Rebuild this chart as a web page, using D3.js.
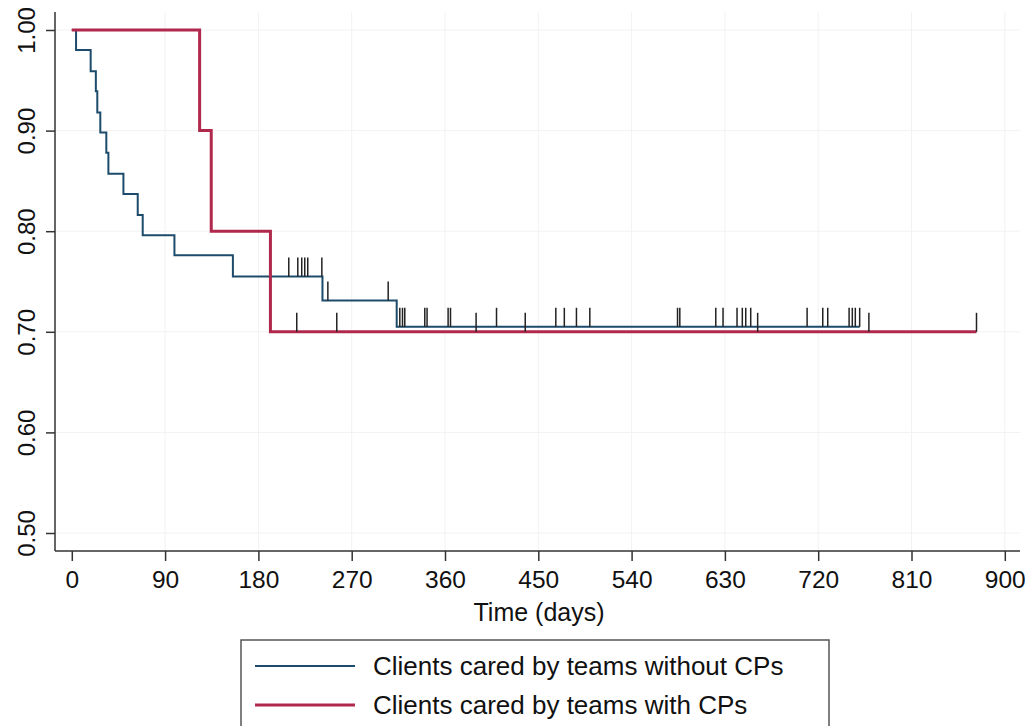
<!DOCTYPE html>
<html>
<head>
<meta charset="utf-8">
<script src="https://cdn.jsdelivr.net/npm/d3@7"></script>
<style>
  body { margin: 0; background: #fff; }
  svg { display: block; font-family: "Liberation Sans", Arial, Helvetica, sans-serif; }
</style>
</head>
<body>
<svg id="chart" width="1030" height="726"></svg>
<script>
// ---- data ----
const seriesNames = ["Clients cared by teams without CPs", "Clients cared by teams with CPs"];

// Teams without CPs: event times (days) and survival after each step
const blueTimes = [0, 4.1, 18.2, 23.2, 24.6, 27.5, 33.3, 35.3, 49.8, 63.6, 68.4, 99, 155.4, 241.8, 313.4];
const blueSurv  = [1.00, 0.980, 0.959, 0.939, 0.918, 0.898, 0.878, 0.857, 0.837, 0.816, 0.796, 0.776, 0.755, 0.731, 0.705];
const blueCensor = [209.3, 218, 221.8, 224.7, 227.6, 241.2, 247, 305.2, 316.4, 319.0, 321.2, 340.5, 342.7,
                    363.0, 365.3, 409.7, 466.9, 475.1, 486.8, 499.7, 584.3, 586.5, 621.2, 628.2, 641.7,
                    646.8, 650.1, 654.9, 709.3, 724.4, 729.2, 749.8, 752.9, 755.8, 760];

// Teams with CPs
const redTimes = [0, 123.3, 134.5, 191.6];
const redSurv  = [1.00, 0.90, 0.80, 0.70];
const redCensor = [217, 255.6, 390, 437.4, 661.6, 768.9, 872.7];

const xTicks = [0, 90, 180, 270, 360, 450, 540, 630, 720, 810, 900];
const yTicks = [0.50, 0.60, 0.70, 0.80, 0.90, 1.00];

// ---- layout ----
const svg = d3.select("#chart");
const x = d3.scaleLinear().domain([0, 900]).range([71.8, 1004.8]);
const y = d3.scaleLinear().domain([0.5, 1.0]).range([533, 30]);
const axisY = 551, axisX = 55;
const FONT = "'Liberation Sans', Arial, sans-serif";

const blueCol = "#1d4b6b";
const redCol = "#b0284c";

// faint grid
const grid = svg.append("g");
grid.selectAll("line.gx").data(xTicks.slice(1)).join("line")
  .attr("x1", d => x(d)).attr("x2", d => x(d))
  .attr("y1", 12).attr("y2", axisY)
  .attr("stroke", "#f2f2f2").attr("stroke-width", 1);
grid.selectAll("line.gy").data(yTicks).join("line")
  .attr("x1", axisX).attr("x2", 1020)
  .attr("y1", d => y(d)).attr("y2", d => y(d))
  .attr("stroke", "#f2f2f2").attr("stroke-width", 1);

// x axis
const xAxis = d3.axisBottom(x).tickValues(xTicks).tickSize(10).tickPadding(8).tickFormat(d3.format("d"));
const gx = svg.append("g").attr("transform", `translate(0,${axisY})`).call(xAxis);
gx.select(".domain").attr("d", `M${axisX},0H1020`).attr("stroke", "#333").attr("stroke-width", 1.5);
gx.selectAll(".tick line").attr("stroke", "#333").attr("stroke-width", 1.5);
gx.selectAll(".tick text").attr("font-size", 24.5).attr("fill", "#111")
  .attr("font-family", FONT).attr("dy", null).attr("y", 37);

// y axis
const yAxis = d3.axisLeft(y).tickValues(yTicks).tickSize(9).tickPadding(0).tickFormat(d3.format(".2f"));
const gy = svg.append("g").attr("transform", `translate(${axisX},0)`).call(yAxis);
gy.select(".domain").attr("d", `M0,12V${axisY}`).attr("stroke", "#333").attr("stroke-width", 1.5);
gy.selectAll(".tick line").attr("stroke", "#333").attr("stroke-width", 1.5);
gy.selectAll(".tick text")
  .attr("font-size", 24).attr("fill", "#111")
  .attr("font-family", FONT)
  .attr("text-anchor", "middle")
  .attr("dy", "0")
  .attr("transform", "translate(-29,0) rotate(-90)")
  .attr("x", 0).attr("y", 8.5);

// x title
svg.append("text").attr("x", 539).attr("y", 621).attr("text-anchor", "middle")
  .attr("font-size", 25).attr("fill", "#111").text("Time (days)");

// step curves
function stepPoints(times, surv, end) {
  const pts = times.map((t, i) => [t, surv[i]]);
  pts.push([end, surv[surv.length - 1]]);
  return pts;
}
function survAt(times, surv, t) {
  let s = surv[0];
  for (let i = 0; i < times.length; i++) if (times[i] <= t) s = surv[i];
  return s;
}
const line = d3.line().x(d => x(d[0])).y(d => y(d[1])).curve(d3.curveStepAfter);

svg.append("path").datum(stepPoints(blueTimes, blueSurv, d3.max(blueCensor)))
  .attr("d", line).attr("fill", "none").attr("stroke", blueCol).attr("stroke-width", 2);
svg.append("path").datum(stepPoints(redTimes, redSurv, d3.max(redCensor)))
  .attr("d", line).attr("fill", "none").attr("stroke", redCol).attr("stroke-width", 3);

// censor ticks
function drawCensor(ts, times, surv) {
  svg.append("g").selectAll("line").data(ts).join("line")
    .attr("x1", d => x(d)).attr("x2", d => x(d))
    .attr("y1", d => y(survAt(times, surv, d)))
    .attr("y2", d => y(survAt(times, surv, d)) - 19)
    .attr("stroke", "#222").attr("stroke-width", 1.5);
}
drawCensor(blueCensor, blueTimes, blueSurv);
drawCensor(redCensor, redTimes, redSurv);

// legend
const lg = svg.append("g");
lg.append("rect").attr("x", 241).attr("y", 640).attr("width", 588).attr("height", 100)
  .attr("fill", "#fff").attr("stroke", "#555").attr("stroke-width", 1.5);
const entries = [
  { name: seriesNames[0], color: blueCol, w: 2, y: 666 },
  { name: seriesNames[1], color: redCol, w: 3, y: 705 }
];
entries.forEach(e => {
  lg.append("line").attr("x1", 255).attr("x2", 355).attr("y1", e.y).attr("y2", e.y)
    .attr("stroke", e.color).attr("stroke-width", e.w);
  lg.append("text").attr("x", 373).attr("y", e.y).attr("dy", "0.36em")
    .attr("font-size", 26).attr("fill", "#111").text(e.name);
});
</script>
</body>
</html>
